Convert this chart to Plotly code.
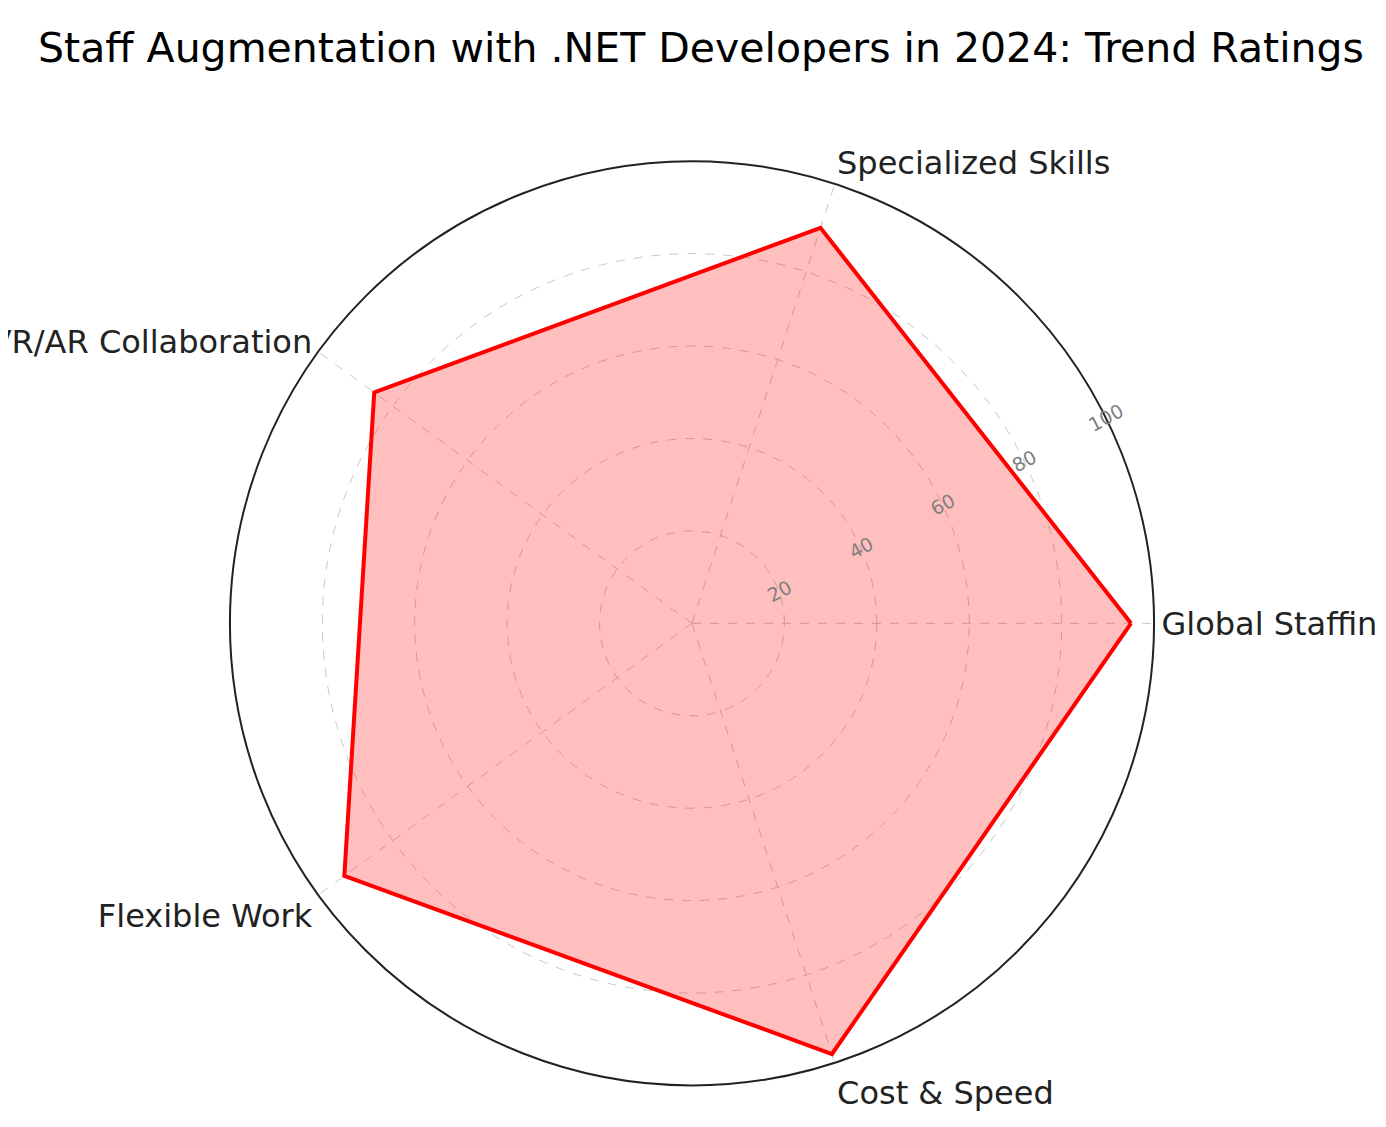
import plotly.graph_objects as go

categories = ['Global Staffing', 'Specialized Skills', 'VR/AR Collaboration', 'Flexible Work', 'Cost & Speed']
ratings = [95, 90, 85, 93, 98]
tick_vals = [20, 40, 60, 80, 100]

theta = categories + categories[:1]
r = ratings + ratings[:1]

fig = go.Figure()
fig.add_trace(go.Scatterpolar(
    r=r, theta=theta, mode='lines', fill='toself',
    fillcolor='rgba(255,0,0,0.25)',
    line=dict(color='red', width=4),
    showlegend=False
))

fig.update_layout(
    width=1386, height=1127,
    margin=dict(l=0, r=0, t=0, b=0),
    paper_bgcolor='white',
    font=dict(family='DejaVu Sans', color='#222'),
    title=dict(text='Staff Augmentation with .NET Developers in 2024: Trend Ratings',
               x=0.5, xanchor='center', y=0.965, yanchor='middle',
               font=dict(size=41, color='black')),
    polar=dict(
        domain=dict(x=[0.16, 0.827], y=[0.044, 0.864]),
        bgcolor='white',
        angularaxis=dict(rotation=0, direction='counterclockwise',
                         showline=True, linecolor='#222', linewidth=2,
                         gridcolor='#c8c8c8', griddash='dash', ticks='',
                         tickfont=dict(size=32, color='#222')),
        radialaxis=dict(range=[0, 100], tickvals=tick_vals, angle=28, tickangle=0,
                        showline=False, ticks='',
                        gridcolor='#c8c8c8', griddash='dash',
                        tickfont=dict(size=19, color='grey'))
    )
)

fig.write_html('out.html')
